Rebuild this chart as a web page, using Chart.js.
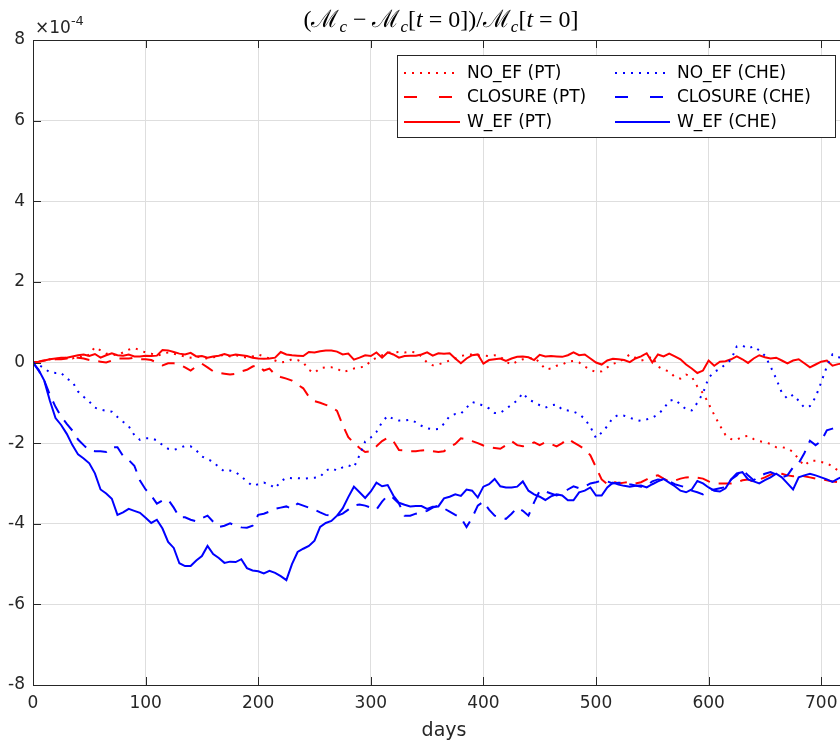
<!DOCTYPE html>
<html>
<head>
<meta charset="utf-8">
<script src="https://cdn.jsdelivr.net/npm/chart.js@4.4.0/dist/chart.umd.min.js"></script>
<style>
  html, body { margin: 0; padding: 0; background: #fff; overflow: hidden; }
  #wrap { position: relative; width: 840px; height: 742px; overflow: hidden; }
  #myChart { position: absolute; left: 0; top: 0; }
</style>
</head>
<body>
<div id="wrap"><canvas id="myChart" width="860" height="742"></canvas></div>
<script>
// days since t = 0 (the plot is cut off on the right, x-limit is 730)
const days = [
  0, 5, 10, 15, 20, 25, 30, 35, 40, 45,
  50, 55, 60, 65, 70, 75, 80, 85, 90, 95,
  100, 105, 110, 115, 120, 125, 130, 135, 140, 145,
  150, 155, 160, 165, 170, 175, 180, 185, 190, 195,
  200, 205, 210, 215, 220, 225, 230, 235, 240, 245,
  250, 255, 260, 265, 270, 275, 280, 285, 290, 295,
  300, 305, 310, 315, 320, 325, 330, 335, 340, 345,
  350, 355, 360, 365, 370, 375, 380, 385, 390, 395,
  400, 405, 410, 415, 420, 425, 430, 435, 440, 445,
  450, 455, 460, 465, 470, 475, 480, 485, 490, 495,
  500, 505, 510, 515, 520, 525, 530, 535, 540, 545,
  550, 555, 560, 565, 570, 575, 580, 585, 590, 595,
  600, 605, 610, 615, 620, 625, 630, 635, 640, 645,
  650, 655, 660, 665, 670, 675, 680, 685, 690, 695,
  700, 705, 710, 715, 720
];

// values in units of 1e-4
const noEfPT = [
  0, 0.03, 0.05, 0.08, 0.1, 0.08, 0.12, 0.1, 0.15, 0.12,
  0.2, 0.38, 0.3, 0.22, 0.2, 0.18, 0.25, 0.32, 0.36, 0.3,
  0.25, 0.22, 0.17, 0.2, 0.25, 0.22, 0.18, 0.15, 0.12, 0.15,
  0.12, 0.1, 0.13, 0.15, 0.2, 0.15, 0.18, 0.15, 0.12, 0.15,
  0.2, 0.15, 0.1, 0.05, 0.0, 0.02, 0.08, 0.06, 0.0, -0.18,
  -0.26, -0.14, -0.12, -0.12, -0.15, -0.24, -0.2, -0.15, -0.12, -0.1,
  0.04, 0.12, 0.18, 0.25, 0.25, 0.26, 0.25, 0.27, 0.25, 0.15,
  0.0, -0.07, -0.05, 0.0, 0.05, 0.1, 0.16, 0.19, 0.2, 0.18,
  0.17, 0.16, 0.18, 0.15, 0.02, -0.05, 0.03, 0.08, 0.1, 0.12,
  0.0, -0.17, -0.15, -0.08, -0.05, 0.02, 0.04, 0.0, -0.1, -0.18,
  -0.24, -0.22, -0.12, -0.03, 0.0, 0.1, 0.2, 0.12, 0.05, 0.08,
  0.15, -0.1, -0.18, -0.22, -0.36, -0.4, -0.3, -0.35, -0.6, -0.76,
  -1.02, -1.3, -1.56, -1.8, -1.9, -1.92, -1.84, -1.82, -1.9, -1.95,
  -1.98, -2.02, -2.1, -2.1, -2.13, -2.22, -2.4, -2.56, -2.44, -2.44,
  -2.47, -2.5, -2.58, -2.68, -2.8
];

const closurePT = [
  0, 0.02, 0.05, 0.06, 0.08, 0.08, 0.1, 0.12, 0.12, 0.1,
  0.06, 0.04, 0.02, 0.0, 0.05, 0.1, 0.1, 0.1, 0.12, 0.08,
  0.08, 0.06, 0.0, -0.07, -0.02, -0.02, -0.05, -0.12, -0.2, -0.1,
  -0.03, -0.12, -0.22, -0.26, -0.28, -0.3, -0.28, -0.22, -0.18, -0.1,
  -0.07, -0.2, -0.15, -0.3, -0.36, -0.4, -0.45, -0.55, -0.64, -0.85,
  -0.96, -1.0, -1.05, -1.1, -1.2, -1.55, -1.85, -2.0, -2.12, -2.22,
  -2.2, -2.08, -1.95, -1.87, -1.95, -2.17, -2.18, -2.2, -2.2, -2.18,
  -2.17, -2.2, -2.22, -2.2, -2.1, -2.02, -1.88, -1.9, -1.95, -2.0,
  -2.06, -2.1, -2.12, -2.14, -2.05, -1.95, -2.05, -2.08, -2.05, -1.98,
  -2.05, -1.98, -2.02, -2.08, -2.0, -1.89, -1.98, -2.06, -2.15, -2.3,
  -2.6, -2.9, -3.02, -2.95, -3.0, -2.98, -2.96, -3.0, -2.97, -2.9,
  -2.82, -2.8, -2.88, -2.95, -2.93, -2.88, -2.85, -2.84, -2.86, -2.88,
  -2.95, -3.0, -3.0, -3.0, -3.0, -2.98, -2.92, -2.9, -2.96, -2.9,
  -2.85, -2.78, -2.72, -2.76, -2.8, -2.82, -2.78, -2.82, -2.85, -2.88,
  -2.9, -2.92, -2.95, -2.97, -2.98
];

const wEfPT = [
  0, 0.02, 0.05, 0.08, 0.1, 0.12, 0.12, 0.15, 0.18, 0.2,
  0.16, 0.21, 0.12, 0.18, 0.23, 0.18, 0.17, 0.2, 0.15, 0.15,
  0.17, 0.16, 0.17, 0.31, 0.3, 0.26, 0.22, 0.2, 0.24, 0.15,
  0.16, 0.12, 0.15, 0.17, 0.21, 0.17, 0.2, 0.18, 0.16, 0.12,
  0.1, 0.09, 0.1, 0.12, 0.26, 0.2, 0.18, 0.17, 0.16, 0.26,
  0.25, 0.28, 0.3, 0.3, 0.27, 0.2, 0.22, 0.07, 0.12, 0.18,
  0.16, 0.25, 0.12, 0.25, 0.2, 0.12, 0.16, 0.17, 0.17, 0.2,
  0.25, 0.17, 0.23, 0.22, 0.23, 0.1, -0.02, 0.1, 0.18, 0.2,
  -0.03, 0.06, 0.08, 0.1, 0.04, 0.1, 0.14, 0.15, 0.13, 0.06,
  0.19, 0.15, 0.16, 0.15, 0.14, 0.18, 0.25, 0.18, 0.2, 0.1,
  0.0, -0.05, 0.05, 0.09, 0.08, 0.06, 0.01, 0.1, 0.15, 0.23,
  0.0, 0.2, 0.15, 0.22, 0.15, 0.08, -0.05, -0.15, -0.26, -0.2,
  0.05, -0.08, 0.02, 0.03, 0.08, 0.15, 0.08, -0.01, 0.1, 0.18,
  0.13, 0.1, 0.12, 0.05, -0.02, 0.05, 0.08, -0.02, -0.12, -0.05,
  0.02, 0.05, -0.08, -0.04, -0.02
];

const noEfCHE = [
  0, -0.05, -0.15, -0.24, -0.26, -0.26, -0.4, -0.48, -0.72, -0.85,
  -0.97, -1.12, -1.17, -1.2, -1.22, -1.35, -1.47, -1.58, -1.8, -1.92,
  -1.88, -1.88, -1.93, -2.05, -2.14, -2.17, -2.12, -2.07, -2.08, -2.18,
  -2.33, -2.4, -2.46, -2.6, -2.7, -2.68, -2.72, -2.83, -2.95, -3.06,
  -3.02, -2.98, -3.02, -3.12, -2.95, -2.86, -2.87, -2.87, -2.88, -2.87,
  -2.86, -2.84, -2.68, -2.62, -2.68, -2.6, -2.55, -2.6, -2.3, -1.96,
  -1.86, -1.72, -1.48, -1.32, -1.4, -1.44, -1.44, -1.42, -1.48, -1.57,
  -1.63, -1.66, -1.65, -1.52, -1.33, -1.28, -1.27, -1.12, -0.98, -1.02,
  -1.07, -1.14, -1.25, -1.25, -1.15, -1.05, -0.94, -0.76, -0.92, -0.98,
  -1.06, -1.12, -1.06, -1.04, -1.17, -1.19, -1.22, -1.28, -1.4, -1.6,
  -1.87, -1.74, -1.58, -1.37, -1.3, -1.32, -1.37, -1.42, -1.45, -1.41,
  -1.37, -1.29, -1.15, -0.95, -0.92, -1.04, -1.16, -1.19, -1.0, -0.76,
  -0.38, -0.23, -0.16, -0.04, 0.07, 0.4, 0.42, 0.35, 0.4, 0.3,
  0.17, -0.1, -0.4, -0.75, -0.9, -0.8, -0.95, -1.12, -1.08, -0.86,
  -0.49, -0.1, 0.2, 0.13, 0.12
];

const closureCHE = [
  0, -0.2, -0.45, -0.8, -1.1, -1.34, -1.52, -1.69, -1.91, -2.05,
  -2.18, -2.2, -2.2, -2.22, -2.1, -2.1, -2.32, -2.42, -2.56, -2.93,
  -3.15, -3.3, -3.5, -3.42, -3.4, -3.6, -3.84, -3.84, -3.9, -3.94,
  -3.86, -3.8, -3.95, -4.08, -4.05, -3.99, -4.05, -4.09, -4.1, -4.05,
  -3.78, -3.75, -3.7, -3.63, -3.6, -3.57, -3.63, -3.5, -3.55, -3.6,
  -3.65, -3.72, -3.78, -3.8, -3.8, -3.75, -3.65, -3.55, -3.52, -3.55,
  -3.6, -3.65, -3.45, -3.3, -3.36, -3.5, -3.8, -3.8, -3.75, -3.72,
  -3.68, -3.6, -3.55, -3.62, -3.7, -3.78, -3.85, -4.08, -3.85, -3.55,
  -3.45, -3.65, -3.8, -3.84, -3.88, -3.75, -3.6, -3.68, -3.8, -3.47,
  -3.18, -3.2, -3.25, -3.3, -3.25, -3.15, -3.07, -3.12, -3.08, -3.0,
  -2.97, -2.93, -2.95, -3.0, -2.98, -2.98, -3.02, -3.05, -3.08, -3.05,
  -2.95, -2.9, -2.92, -2.95, -3.02, -3.06, -3.1, -3.18, -3.22, -3.27,
  -3.18, -3.15, -3.12, -3.09, -2.9, -2.8, -2.65, -2.8, -2.92, -2.82,
  -2.76, -2.72, -2.78, -2.85, -2.8, -2.6, -2.5, -2.25, -1.94, -2.05,
  -1.95, -1.68, -1.64, -1.6, -1.58
];

const wEfCHE = [
  0, -0.18, -0.45, -0.95, -1.38, -1.55, -1.77, -2.05, -2.28, -2.38,
  -2.5, -2.75, -3.15, -3.25, -3.38, -3.78, -3.72, -3.63, -3.68, -3.73,
  -3.85, -3.98, -3.9, -4.12, -4.45, -4.6, -4.98, -5.05, -5.05, -4.91,
  -4.8, -4.55, -4.75, -4.85, -4.97, -4.94, -4.95, -4.88, -5.1, -5.16,
  -5.18, -5.23, -5.17, -5.22, -5.3, -5.4, -5.0, -4.7, -4.62, -4.55,
  -4.42, -4.08, -3.98, -3.93, -3.8, -3.62, -3.34, -3.08, -3.22, -3.36,
  -3.2, -2.98, -3.07, -3.04, -3.3, -3.48, -3.53, -3.57, -3.56, -3.56,
  -3.63, -3.58, -3.57, -3.37, -3.33, -3.27, -3.31, -3.15, -3.18, -3.35,
  -3.08, -3.02, -2.89, -3.07, -3.1, -3.1, -3.08, -2.95, -3.18, -3.27,
  -3.33, -3.41, -3.32, -3.27, -3.3, -3.42, -3.42, -3.22, -3.18, -3.1,
  -3.3, -3.3, -3.1, -2.98, -3.03, -3.06, -3.08, -3.06, -3.05, -3.1,
  -3.02, -2.95, -2.89, -2.98, -3.07, -3.18, -3.22, -3.15, -2.94, -3.0,
  -3.1, -3.18, -3.2, -3.12, -2.9, -2.75, -2.72, -2.9, -2.95, -3.0,
  -2.92, -2.85, -2.76, -2.85, -3.0, -3.15, -2.85, -2.8, -2.76, -2.8,
  -2.85, -2.9, -2.96, -2.88, -2.82
];

const seriesLabels = ["NO_EF (PT)", "CLOSURE (PT)", "W_EF (PT)", "NO_EF (CHE)", "CLOSURE (CHE)", "W_EF (CHE)"];
const yTicks = [-8, -6, -4, -2, 0, 2, 4, 6, 8];
const xTicks = [0, 100, 200, 300, 400, 500, 600, 700];

const RED = "#ff0000";
const BLUE = "#0000ff";
const AXIS = "#262626";
const DOT = [2, 6];
const DASH = [13, 9];

function points(vals) {
  return days.map((d, i) => ({ x: d, y: vals[i] }));
}

function makeSet(label, vals, color, dash, order) {
  return {
    label: label,
    data: points(vals),
    borderColor: color,
    backgroundColor: color,
    borderWidth: 2,
    borderDash: dash,
    pointRadius: 0,
    fill: false,
    tension: 0,
    order: order
  };
}

// legend box drawn like matlab's (two columns, column-major)
const legendBox = {
  id: "legendBox",
  afterDraw(chart) {
    const c = chart.ctx;
    const sets = chart.data.datasets;
    c.save();
    c.fillStyle = "#fff";
    c.fillRect(397, 55, 439, 83);
    c.strokeStyle = AXIS;
    c.lineWidth = 1;
    c.strokeRect(397.5, 55.5, 438, 82);
    c.font = "17px 'DejaVu Sans'";
    c.textBaseline = "middle";
    const rows = [73, 97, 122];
    const cols = [{ x0: 404, x1: 460, tx: 467 }, { x0: 615, x1: 670, tx: 677 }];
    sets.forEach((ds, i) => {
      const col = cols[Math.floor(i / 3)];
      const yy = rows[i % 3];
      c.strokeStyle = ds.borderColor;
      c.lineWidth = 2;
      if (ds.borderDash === DASH) c.setLineDash([13, 22]);
      else c.setLineDash(ds.borderDash);
      c.beginPath();
      c.moveTo(col.x0, yy);
      c.lineTo(col.x1, yy);
      c.stroke();
      c.setLineDash([]);
      c.fillStyle = "#000";
      c.fillText(ds.label, col.tx, yy + 1);
    });
    c.restore();
  }
};

// box, inward ticks, title and exponent label
const matlabFrame = {
  id: "matlabFrame",
  afterDraw(chart) {
    const c = chart.ctx;
    const a = chart.chartArea;
    const xs = chart.scales.x;
    const ys = chart.scales.y;
    c.save();
    c.strokeStyle = AXIS;
    c.lineWidth = 1;
    c.strokeRect(Math.round(a.left) + 0.5, Math.round(a.top) + 0.5, Math.round(a.right - a.left), Math.round(a.bottom - a.top));
    c.beginPath();
    yTicks.forEach(v => {
      const py = Math.round(ys.getPixelForValue(v)) + 0.5;
      c.moveTo(a.left, py); c.lineTo(a.left + 8, py);
      c.moveTo(a.right, py); c.lineTo(a.right - 8, py);
    });
    xTicks.forEach(v => {
      const px = Math.round(xs.getPixelForValue(v)) + 0.5;
      c.moveTo(px, a.bottom); c.lineTo(px, a.bottom - 8);
      c.moveTo(px, a.top); c.lineTo(px, a.top + 8);
    });
    c.stroke();

    // x10^-4
    c.fillStyle = AXIS;
    c.textBaseline = "alphabetic";
    c.textAlign = "left";
    c.font = "17px 'DejaVu Sans'";
    c.fillText("\u00d710", 35, 33);
    const w = c.measureText("\u00d710").width;
    c.font = "13px 'DejaVu Sans'";
    c.fillText("-4", 35 + w, 25);

    // title: (Mc - Mc[t=0]) / Mc[t=0]
    const big = "24px 'Liberation Serif', 'DejaVu Serif', serif";
    const ital = "italic 24px 'Liberation Serif', 'DejaVu Serif', serif";
    const sub = "italic 17px 'Liberation Serif', 'DejaVu Serif', serif";
    const M = "\u2133";
    const parts = [
      ["(", big, 0], [M, big, 0], ["c", sub, 5], [" \u2212 ", big, 0],
      [M, big, 0], ["c", sub, 5], ["[", big, 0], ["t", ital, 0], [" = 0])/", big, 0],
      [M, big, 0], ["c", sub, 5], ["[", big, 0], ["t", ital, 0], [" = 0]", big, 0]
    ];
    let total = 0;
    parts.forEach(p => { c.font = p[1]; total += c.measureText(p[0]).width; });
    let x = 441 - total / 2;
    c.fillStyle = "#000";
    parts.forEach(p => {
      c.font = p[1];
      c.fillText(p[0], x, 27 + p[2]);
      x += c.measureText(p[0]).width;
    });
    c.restore();
  }
};

const tickFont = { family: "DejaVu Sans", size: 17 };

const myChart = new Chart(document.getElementById("myChart"), {
  type: "line",
  data: {
    datasets: [
      makeSet(seriesLabels[0], noEfPT, RED, DOT, 6),
      makeSet(seriesLabels[1], closurePT, RED, DASH, 5),
      makeSet(seriesLabels[2], wEfPT, RED, [], 4),
      makeSet(seriesLabels[3], noEfCHE, BLUE, DOT, 3),
      makeSet(seriesLabels[4], closureCHE, BLUE, DASH, 2),
      makeSet(seriesLabels[5], wEfCHE, BLUE, [], 1)
    ]
  },
  options: {
    responsive: false,
    animation: false,
    devicePixelRatio: 1,
    layout: { padding: { top: 40, right: 5, left: 0, bottom: 0 } },
    plugins: {
      legend: { display: false },
      title: { display: false },
      tooltip: { enabled: false }
    },
    scales: {
      x: {
        type: "linear",
        min: 0,
        max: 730,
        ticks: { stepSize: 100, includeBounds: false, font: tickFont, color: AXIS, padding: 8, maxRotation: 0 },
        grid: { color: "#dedede", drawTicks: false },
        border: { display: false },
        title: { display: true, text: "days", font: { family: "DejaVu Sans", size: 19 }, color: AXIS, padding: { top: 0, bottom: 0 } },
        afterFit(s) { s.height = 57; }
      },
      y: {
        type: "linear",
        min: -8,
        max: 8,
        ticks: { stepSize: 2, font: tickFont, color: AXIS, padding: 8 },
        grid: { color: "#dedede", drawTicks: false },
        border: { display: false },
        afterFit(s) { s.width = 33; }
      }
    }
  },
  plugins: [matlabFrame, legendBox]
});
</script>
</body>
</html>
